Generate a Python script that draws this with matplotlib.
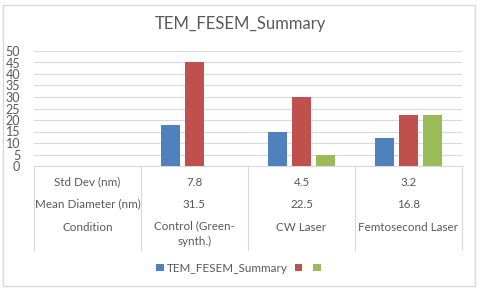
import matplotlib
matplotlib.use('Agg')
import matplotlib.pyplot as plt
import numpy as np

plt.rcParams['font.family'] = ['Lato', 'DejaVu Sans']

# data
row_names = ['Std Dev (nm)', 'Mean Diameter (nm)', 'Condition']
conditions = ['Control (Green-\nsynth.)', 'CW Laser', 'Femtosecond Laser']
mean_diam = ['31.5', '22.5', '16.8']
std_dev = ['7.8', '4.5', '3.2']
series_blue = [np.nan, 18, 15, 12]
series_red = [np.nan, 45, 30, 22]
series_green = [np.nan, 0, 5, 22]
legend_labels = ['TEM_FESEM_Summary', '', '']
yticks = [0, 5, 10, 15, 20, 25, 30, 35, 40, 45, 50]

W, H = 480, 290
fig = plt.figure(figsize=(W / 100, H / 100), dpi=100)
fig.patch.set_facecolor('white')

# outer chart border
fig.add_artist(plt.Rectangle((3 / W, 4 / H), 472 / W, 281 / H, transform=fig.transFigure,
                             fill=False, edgecolor='#D9D9D9', linewidth=1))

left, right, top, bottom = 34, 462, 51, 166
ax = fig.add_axes([left / W, 1 - bottom / H, (right - left) / W, (bottom - top) / H])

x = np.arange(4)
bw = 0.178
gap = 0.045
cols = ['#4F81BD', '#C0504D', '#9BBB59']
handles = []
for i, (vals, c) in enumerate(zip([series_blue, series_red, series_green], cols)):
    off = (i - 1) * (bw + gap)
    b = ax.bar(x + off, vals, width=bw, color=c, linewidth=0, zorder=3)
    handles.append(b)

ax.set_xlim(-0.5, 3.5)
ax.set_ylim(0, 50)
ax.set_yticks(yticks)
ax.yaxis.grid(True, color='#D9D9D9', linewidth=0.8, zorder=0)
ax.set_xticks([])
for s in ['top', 'right', 'left']:
    ax.spines[s].set_visible(False)
ax.spines['bottom'].set_color('#D9D9D9')
ax.tick_params(axis='y', length=0, labelsize=9, labelcolor='#595959', pad=10)

# category table under the axis
tr = ax.get_xaxis_transform()
ph = bottom - top
def ypos(px):
    return -(px - bottom) / ph

for xb in np.arange(-0.5, 4.0, 1.0):
    ax.plot([xb, xb], [0, ypos(250)], transform=tr, color='#D9D9D9', linewidth=0.8,
            clip_on=False)

rows = [[row_names[0]] + std_dev, [row_names[1]] + mean_diam, [row_names[2]] + conditions]
row_y = [182, 204, 227]
for r, py in zip(rows, row_y):
    for xi, t in enumerate(r):
        multi = '\n' in t
        ax.text(xi, ypos(py - 7) if multi else ypos(py), t, transform=tr, ha='center',
                va='top' if multi else 'center', fontsize=8.4, color='#595959',
                clip_on=False, linespacing=1.55)

fig.text(240 / W, 1 - 24 / H, 'TEM_FESEM_Summary', ha='center', va='center',
         fontsize=12, color='#595959')

fig.legend(handles, legend_labels, loc='center', bbox_to_anchor=(240 / W, 1 - 268 / H),
           ncol=3, frameon=False, fontsize=8.4, labelcolor='#595959', handlelength=0.65,
           handleheight=0.65, handletextpad=0.3, columnspacing=0.6)

plt.savefig('out.png', dpi=100)
